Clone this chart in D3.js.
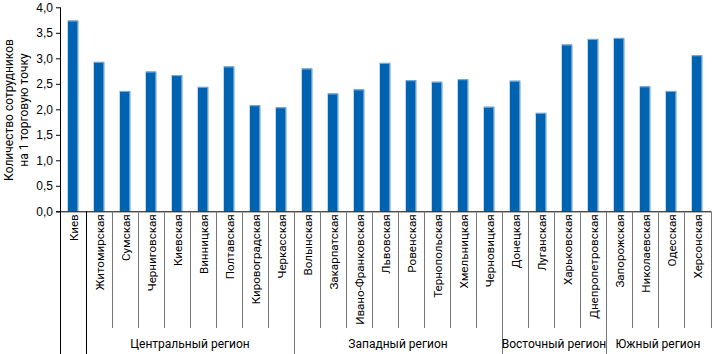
<!DOCTYPE html>
<html>
<head>
<meta charset="utf-8">
<script src="https://cdn.jsdelivr.net/npm/d3@7"></script>
<style>
  body { margin: 0; background: #fff; }
  svg { font-family: Roboto, "Liberation Sans", sans-serif; display: block; }
</style>
</head>
<body>
<svg id="chart"></svg>
<script>
const regions = ["Киев", "Центральный регион", "Западный регион", "Восточный регион", "Южный регион"];
const regionSizes = [1, 8, 8, 4, 4];
const categories = [
  "Киев",
  "Житомирская", "Сумская", "Черниговская", "Киевская", "Винницкая", "Полтавская", "Кировоградская", "Черкасская",
  "Волынская", "Закарпатская", "Ивано-Франковская", "Львовская", "Ровенская", "Тернопольская", "Хмельницкая", "Черновицкая",
  "Донецкая", "Луганская", "Харьковская", "Днепропетровская",
  "Запорожская", "Николаевская", "Одесская", "Херсонская"
];
const values = [
  3.74,
  2.93, 2.36, 2.74, 2.67, 2.44, 2.84, 2.08, 2.04,
  2.80, 2.31, 2.39, 2.91, 2.57, 2.54, 2.59, 2.05,
  2.56, 1.93, 3.27, 3.38,
  3.40, 2.45, 2.36, 3.06
];
const yTicks = [0, 0.5, 1, 1.5, 2, 2.5, 3, 3.5, 4];

const width = 715, height = 354;
const plotL = 60, plotR = 710, plotT = 7.3, plotB = 211.3;
const svg = d3.select("#chart").attr("width", width).attr("height", height);

const x = d3.scaleBand().domain(categories).range([plotL, plotR]);
const y = d3.scaleLinear().domain([0, 4]).range([plotB, plotT]);
const fmt = (d) => d3.format(".1f")(d).replace(".", ",");

// bars
const barW = 10.5;
const bars = svg.append("g");
categories.forEach((c, i) => {
  const bx = x(c) + (x.bandwidth() - barW) / 2;
  const by = y(values[i]);
  bars.append("rect")
    .attr("x", bx).attr("y", by)
    .attr("width", barW).attr("height", plotB - by)
    .attr("fill", "#0063b1");
  bars.append("path")
    .attr("d", `M${bx},${by + 0.5}H${bx + barW - 0.5}V${plotB}`)
    .attr("fill", "none")
    .attr("stroke", "#7fb0de")
    .attr("stroke-width", 1);
});

// y axis
const yAxis = svg.append("g").attr("transform", `translate(${plotL},0)`)
  .call(d3.axisLeft(y).tickValues(yTicks).tickFormat(fmt).tickSize(4).tickPadding(3));
yAxis.select(".domain").remove();
yAxis.selectAll("line").attr("stroke", "#000");
yAxis.selectAll("text").attr("font-size", 12).attr("fill", "#000");

svg.append("line")
  .attr("x1", plotL + 0.5).attr("x2", plotL + 0.5)
  .attr("y1", plotT).attr("y2", height)
  .attr("stroke", "#000");
svg.append("line")
  .attr("x1", plotL - 4).attr("x2", plotR + 1)
  .attr("y1", plotB + 0.5).attr("y2", plotB + 0.5)
  .attr("stroke", "#000");

// y title
const yt = svg.append("text")
  .attr("transform", `translate(13,110) rotate(-90)`)
  .attr("text-anchor", "middle")
  .attr("font-size", 12)
  .attr("fill", "#000");
yt.append("tspan").attr("x", 0).attr("y", 0).text("Количество сотрудников");
yt.append("tspan").attr("x", 0).attr("y", 15).text("на 1 торговую точку");

// category labels
svg.append("g").selectAll("text")
  .data(categories)
  .join("text")
  .attr("transform", (d) => `translate(${x(d) + x.bandwidth() / 2 + 1},${plotB + 3}) rotate(-90)`)
  .attr("text-anchor", "end")
  .attr("dy", "0.35em")
  .attr("font-size", 11.6)
  .attr("fill", "#000")
  .text((d) => d);

// separators
let idx = 0;
const starts = regionSizes.map((n) => { const s = idx; idx += n; return s; });
categories.forEach((c, i) => {
  if (i === 0) return;
  const isRegion = starts.includes(i);
  const xx = Math.round(x(c)) + 0.5;
  svg.append("line")
    .attr("x1", xx).attr("x2", xx)
    .attr("y1", plotB).attr("y2", isRegion ? height : 328)
    .attr("stroke", i === 1 ? "#000" : "#777");
});
svg.append("line")
  .attr("x1", plotR + 1.5).attr("x2", plotR + 1.5)
  .attr("y1", plotB).attr("y2", 328)
  .attr("stroke", "#777");

// region labels
regions.forEach((r, k) => {
  if (k === 0) return;
  const a = x(categories[starts[k]]);
  const b = x(categories[starts[k] + regionSizes[k] - 1]) + x.bandwidth();
  svg.append("text")
    .attr("x", (a + b) / 2).attr("y", 348)
    .attr("text-anchor", "middle")
    .attr("font-size", 12)
    .attr("fill", "#000")
    .text(r);
});
</script>
</body>
</html>
